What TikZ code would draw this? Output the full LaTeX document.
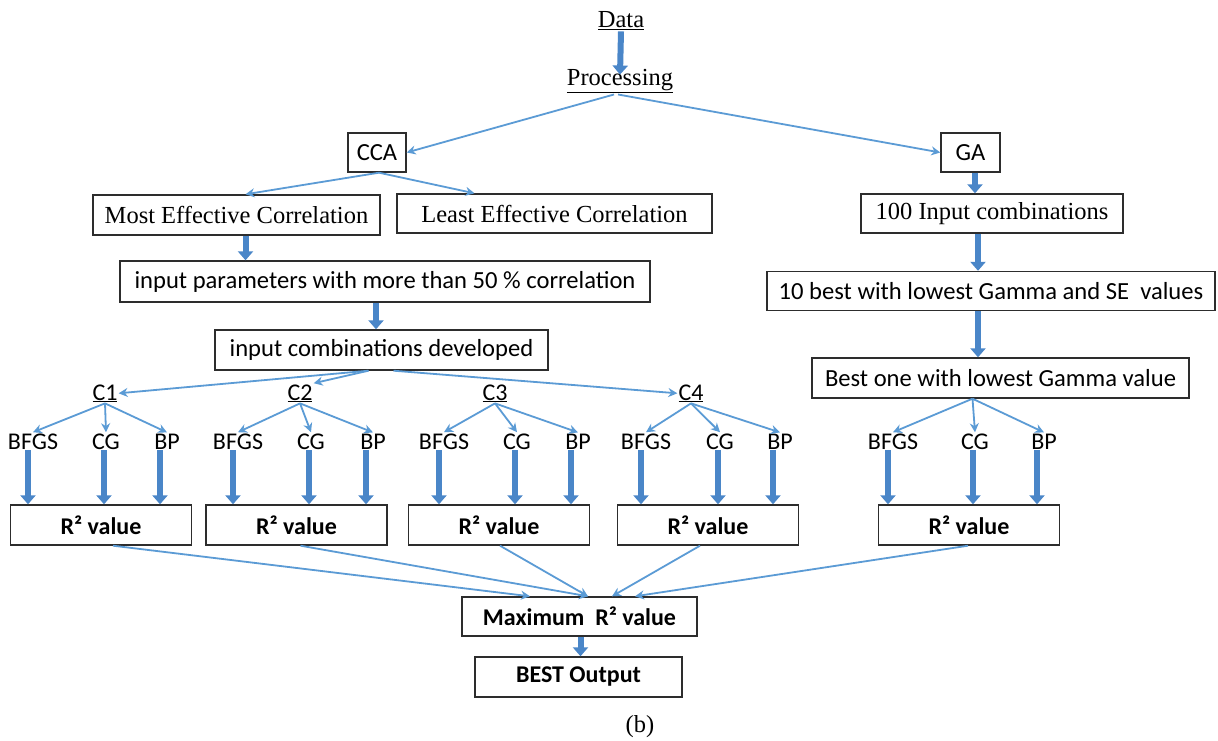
\documentclass[tikz,border=0pt]{standalone}
\usepackage{fontspec}
\setmainfont{Liberation Serif}
\newfontfamily\calibri{Carlito}
\usetikzlibrary{arrows.meta,calc}
\definecolor{linkblue}{RGB}{91,155,213}
\definecolor{flowblue}{RGB}{74,134,200}
\definecolor{boxline}{RGB}{45,45,45}

\begin{document}
\begin{tikzpicture}[x=1pt,y=-1pt,
  box/.style={draw=boxline, line width=1.4pt, fill=white, inner sep=0pt},
  serif/.style={font=\fontsize{24.5}{28}\selectfont},
  sans/.style={font=\calibri\fontsize{24.6}{28}\selectfont},
  bsans/.style={font=\calibri\bfseries\fontsize{24}{28}\selectfont},
  lab/.style={font=\calibri\fontsize{24}{26}\selectfont, inner sep=1pt, anchor=base},
  link/.style={draw=linkblue, line width=1.8pt, -{Stealth[length=9pt,width=9pt]}},
  flow/.style={draw=flowblue, line width=6pt, -{Triangle[length=9pt,width=15pt]}},
]
\useasboundingbox[fill=white] (0,0) rectangle (1218,741);

% top of the flow
\node[serif, anchor=base, inner sep=1pt] (data) at (621,28) {\underline{Data}};
\node[serif, anchor=base, inner sep=1pt] (proc) at (620,86) {\underline{Processing}};
\draw[flow] (data.south) -- ([yshift=-6pt]proc.north);

\node[box, sans, minimum width=58pt, minimum height=39pt] (cca) at (377,152.5) {CCA};
\node[box, sans, minimum width=59pt, minimum height=39pt] (ga) at (970.5,152.5) {GA};
\draw[link] ([xshift=-6pt]proc.south) -- (cca.east);
\draw[link] ([xshift=-2pt]proc.south) -- (ga.west);

% CCA branch
\node[box, serif, minimum width=287pt, minimum height=40pt] (mec) at (236.5,215) {Most Effective Correlation};
\node[box, serif, minimum width=315pt, minimum height=39pt] (lec) at (554.5,213.5) {Least Effective Correlation};
\draw[link] ([xshift=2pt]cca.south) -- ([xshift=9pt]mec.north);
\draw[link] ([xshift=2pt]cca.south) -- ([xshift=-80pt]lec.north);

\node[box, sans, minimum width=530pt, minimum height=41pt] (ip) at (385,281.5) {input parameters with more than 50 \% correlation};
\draw[flow] ([xshift=9pt]mec.south) -- ([xshift=9pt]mec.south |- ip.north);

\node[box, sans, minimum width=333pt, minimum height=40pt] (icd) at (381.5,350) {input combinations developed};
\draw[flow] ([xshift=-9pt]ip.south) -- ([xshift=-9pt]ip.south |- icd.north);

% GA branch
\node[box, serif, minimum width=262pt, minimum height=39pt] (hic) at (992,213.5) {100 Input combinations};
\draw[flow] ([xshift=4.5pt]ga.south) -- ([xshift=4.5pt]ga.south |- hic.north);
\node[box, sans, minimum width=448pt, minimum height=39pt] (tenb) at (991,291) {10 best with lowest Gamma and SE\ \ values};
\draw[flow] ([xshift=-14pt]hic.south) -- ([xshift=-14pt]hic.south |- tenb.north);
\node[box, sans, minimum width=377pt, minimum height=40pt] (bone) at (1000.5,378) {Best one with lowest Gamma value};
\draw[flow] ([xshift=-13pt]tenb.south) -- ([xshift=-13pt]tenb.south |- bone.north);

% combination labels
\node[lab] (c1) at (105,400) {\underline{C1}};
\node[lab] (c2) at (300,400) {\underline{C2}};
\node[lab] (c3) at (495,400) {\underline{C3}};
\node[lab] (c4) at (691,400) {\underline{C4}};
\draw[link] ([xshift=-13pt]icd.south) -- (c1.east);
\draw[link] ([xshift=-13pt]icd.south) -- (c2.north east);
\draw[link] ([xshift=12pt]icd.south) -- (c4.west);

% training algorithms under each combination and the R2 boxes
\foreach \g/\bx/\cx/\px/\rx in {1/33/106/167/101, 2/238/311/373/296.5, 3/444/517/578/499, 4/646/720/780/708, 5/893/975/1044/969}{
  \node[lab] (bf\g) at (\bx,449) {BFGS};
  \node[lab] (cg\g) at (\cx,449) {CG};
  \node[lab] (bp\g) at (\px,449) {BP};
  \node[box, bsans, minimum width=181pt, minimum height=40pt] (r\g) at (\rx,525) {R² value};
  \draw[flow] ([xshift=-5pt]bf\g.south) -- ([xshift=-5pt]bf\g.south |- r\g.north);
  \draw[flow] ([xshift=-2pt]cg\g.south) -- ([xshift=-2pt]cg\g.south |- r\g.north);
  \draw[flow] ([xshift=-7pt]bp\g.south) -- ([xshift=-7pt]bp\g.south |- r\g.north);
}
\foreach \g in {1,2,3,4}{
  \draw[link] (c\g.south) -- (bf\g.north);
  \draw[link] (c\g.south) -- (cg\g.north);
  \draw[link] (c\g.south) -- (bp\g.north);
}
\draw[link] ([xshift=-28pt]bone.south) -- (bf5.north);
\draw[link] ([xshift=-28pt]bone.south) -- (cg5.north);
\draw[link] ([xshift=-28pt]bone.south) -- (bp5.north);

% final selection
\node[box, bsans, minimum width=235pt, minimum height=39pt] (max) at (579.5,616.5) {Maximum\ \ R² value};
\node[box, bsans, minimum width=207pt, minimum height=40pt] (best) at (578.5,677) {BEST Output};
\draw[flow] ([xshift=1pt]max.south) -- ([xshift=1pt]max.south |- best.north);

\draw[link] ([xshift=12pt]r1.south) -- ([xshift=-49.5pt]max.north);
\draw[link] ([xshift=4pt]r2.south) -- ([xshift=8.5pt]max.north);
\draw[link] ([xshift=1pt]r3.south) -- ([xshift=8.5pt]max.north);
\draw[link] ([xshift=-8pt]r4.south) -- ([xshift=32.5pt]max.north);
\draw[link] ([xshift=-1pt]r5.south) -- ([xshift=55.5pt]max.north);

\node[serif] (cap) at (640,727) {(b)};
\end{tikzpicture}
\end{document}
